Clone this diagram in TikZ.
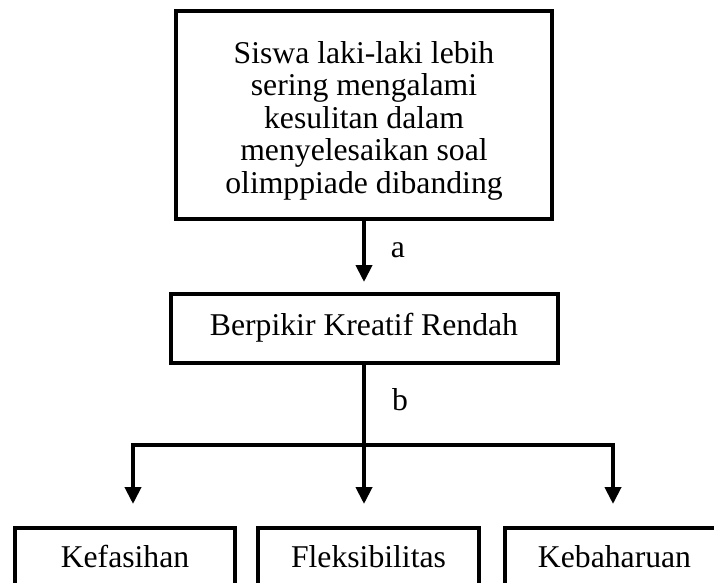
\documentclass[tikz,border=0pt]{standalone}
\usepackage{fontspec}
\setmainfont{Liberation Serif}
\usetikzlibrary{arrows.meta}
\begin{document}
\begin{tikzpicture}[x=1pt,y=-1pt,
  box/.style={draw, line width=4pt, inner sep=0pt, font=\fontsize{31.7}{32.5}\selectfont, align=center},
  lbl/.style={font=\fontsize{31.7}{32.5}\selectfont, anchor=base, inner sep=0pt},
  arr/.style={line width=4pt, -{Triangle[width=16pt,length=17pt]}},
  arr2/.style={line width=4pt, {Triangle[width=16pt,length=17pt]}-{Triangle[width=16pt,length=17pt]}}
]
\useasboundingbox[fill=white] (0,0) rectangle (714,582);
\node[box, minimum width=376pt, minimum height=208pt, text height=156pt, text depth=0pt] (top) at (364,115)
  {Siswa laki-laki lebih\\sering mengalami\\kesulitan dalam\\menyelesaikan soal\\olimppiade dibanding};
\node[box, minimum width=387pt, minimum height=69pt, text height=22pt, text depth=8pt] (mid) at (364,328.5)
  {Berpikir Kreatif Rendah};
\node[box, minimum width=220pt, minimum height=70pt, text height=22pt, text depth=13pt] (b1) at (125,562.5) {Kefasihan};
\node[box, minimum width=221pt, minimum height=70pt, text height=22pt, text depth=13pt] (b2) at (368.5,562.5) {Fleksibilitas};
\node[box, minimum width=220pt, minimum height=70pt, text height=22pt, text depth=13pt] (b3) at (614.5,562.5) {Kebaharuan};
\node[lbl] (la) at (398,257) {a};
\node[lbl] (lb) at (400,410) {b};
\coordinate (j) at (364,445);
\coordinate (tl) at (133,504);
\coordinate (tm) at (364,504);
\coordinate (tr) at (613,504);
\draw[arr, shorten >=10pt] (top.south) -- (mid.north);
\draw[arr] (mid.south) -- (tm);
\draw[arr2] (tl) |- (j) -| (tr);
\end{tikzpicture}
\end{document}
